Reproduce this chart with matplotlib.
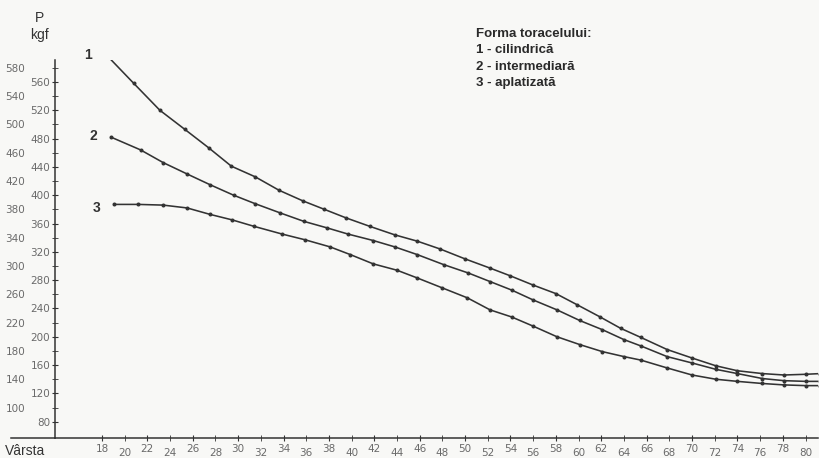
import numpy as np
import matplotlib
matplotlib.use("Agg")
import matplotlib.pyplot as plt

# Force (kgf) by age, for three chest shapes
age_1 = [18.4, 20.8, 23.1, 25.3, 27.4, 29.4, 31.5, 33.6, 35.7, 37.6, 39.5, 41.6, 43.8, 45.8, 47.8, 50.0,
         52.2, 54.0, 56.0, 58.0, 59.9, 61.9, 63.7, 65.5, 67.8, 70.0, 72.1, 74.0, 76.2, 78.1, 80.0, 81.3]
force_1 = [598, 558, 520, 493, 467, 441, 426, 407, 392, 380, 368, 356, 344, 335, 324, 310,
           297, 286, 273, 261, 245, 228, 212, 199, 182, 170, 159, 152, 148, 146, 147, 148]

age_2 = [18.8, 21.4, 23.4, 25.5, 27.5, 29.6, 31.5, 33.7, 35.8, 37.8, 39.7, 41.9, 43.8, 45.8, 48.1, 50.3,
         52.2, 54.1, 56.0, 58.1, 60.1, 62.1, 64.0, 65.5, 67.8, 70.0, 72.1, 74.0, 76.2, 78.1, 80.0, 81.3]
force_2 = [482, 464, 446, 430, 415, 400, 388, 375, 363, 354, 345, 336, 327, 316, 302, 290,
           278, 266, 252, 238, 223, 210, 196, 187, 172, 163, 154, 148, 141, 138, 137, 137]

age_3 = [19.1, 21.2, 23.4, 25.5, 27.5, 29.5, 31.4, 33.9, 35.9, 38.1, 39.9, 41.9, 44.0, 45.8, 48.0, 50.2,
         52.2, 54.1, 56.0, 58.1, 60.1, 62.1, 64.0, 65.5, 67.8, 70.0, 72.1, 74.0, 76.2, 78.1, 80.0, 81.3]
force_3 = [387, 387, 386, 382, 373, 365, 356, 345, 337, 327, 316, 303, 294, 283, 269, 255,
           238, 228, 215, 200, 189, 179, 172, 167, 156, 146, 140, 137, 134, 132, 131, 131]

curve_names = ["1", "2", "3"]
legend_lines = ["Forma toracelului:", "1 - cilindrică", "2 - intermediară", "3 - aplatizată"]

x_ticks_hi = list(range(18, 81, 4))   # 18, 22, ... drawn a bit higher
x_ticks_lo = list(range(20, 81, 4))   # 20, 24, ... drawn a bit lower
y_ticks_right = list(range(80, 561, 40))   # 80, 120, ... 560 near the axis
y_ticks_left = list(range(100, 581, 40))   # 100, 140, ... 580 further out

ink = "#333333"
soft = "#6a6a6a"

fig = plt.figure(figsize=(8.2, 4.58), dpi=100, facecolor="#f8f8f6")
ax = fig.add_axes([55 / 820, 20 / 458, 763 / 820, 378 / 458])
ax.set_facecolor("none")

for xs, ys in [(age_1, force_1), (age_2, force_2), (age_3, force_3)]:
    ax.plot(xs, ys, color=ink, lw=1.15, marker="o", ms=1.9, mfc=ink, mec=ink)

ax.set_xlim(13.86, 81.1)
ax.set_ylim(57, 591)

# x axis line runs a little past the y axis on the left
ax.plot([10.0, 13.86], [57, 57], color=ink, lw=1.1, clip_on=False)

for s in ["top", "right"]:
    ax.spines[s].set_visible(False)
for s in ["left", "bottom"]:
    ax.spines[s].set_color(ink)
    ax.spines[s].set_linewidth(1.1)

ax.set_xticks(x_ticks_hi)
ax.set_xticklabels([str(v) for v in x_ticks_hi])
ax.set_xticks(x_ticks_lo, minor=True)
ax.set_xticklabels([str(v) for v in x_ticks_lo], minor=True)
ax.tick_params(axis="x", which="major", direction="inout", length=5, pad=2,
               labelsize=7.5, colors=ink, labelcolor=soft)
ax.tick_params(axis="x", which="minor", direction="inout", length=5, pad=5,
               labelsize=7.5, colors=ink, labelcolor=soft)

ax.set_yticks(y_ticks_right)
ax.set_yticklabels([str(v) for v in y_ticks_right])
ax.set_yticks(y_ticks_left, minor=True)
ax.set_yticklabels([str(v) for v in y_ticks_left], minor=True)
ax.tick_params(axis="y", which="major", direction="inout", length=5, pad=1,
               labelsize=7.5, colors=ink, labelcolor=soft)
ax.tick_params(axis="y", which="minor", direction="inout", length=5, pad=19,
               labelsize=7.5, colors=ink, labelcolor=soft)

# curve numbers at the start of each line
label_pos = [(16.8, 598), (17.2, 484), (17.55, 382)]
for name, (lx, ly) in zip(curve_names, label_pos):
    ax.text(lx, ly, name, fontsize=10, fontweight="bold", color=ink,
            ha="center", va="center", family="Liberation Sans")

# axis titles
fig.text(40 / 820, 1 - 18 / 458, "P", fontsize=10, color=ink, ha="center", va="center",
         family="Liberation Sans")
fig.text(40 / 820, 1 - 35 / 458, "kgf", fontsize=10, color=ink, ha="center", va="center",
         family="Liberation Sans")
fig.text(5 / 820, 1 - 451 / 458, "Vârsta", fontsize=10, color=ink, ha="left", va="center",
         family="Liberation Sans")

# legend block
for i, line in enumerate(legend_lines):
    fig.text(476 / 820, 1 - (34 + 16.3 * i) / 458, line, fontsize=9.5, fontweight="bold",
             color="#2a2a2a", ha="left", va="center", family="Liberation Sans")

fig.savefig("out.png", dpi=100, facecolor=fig.get_facecolor())
